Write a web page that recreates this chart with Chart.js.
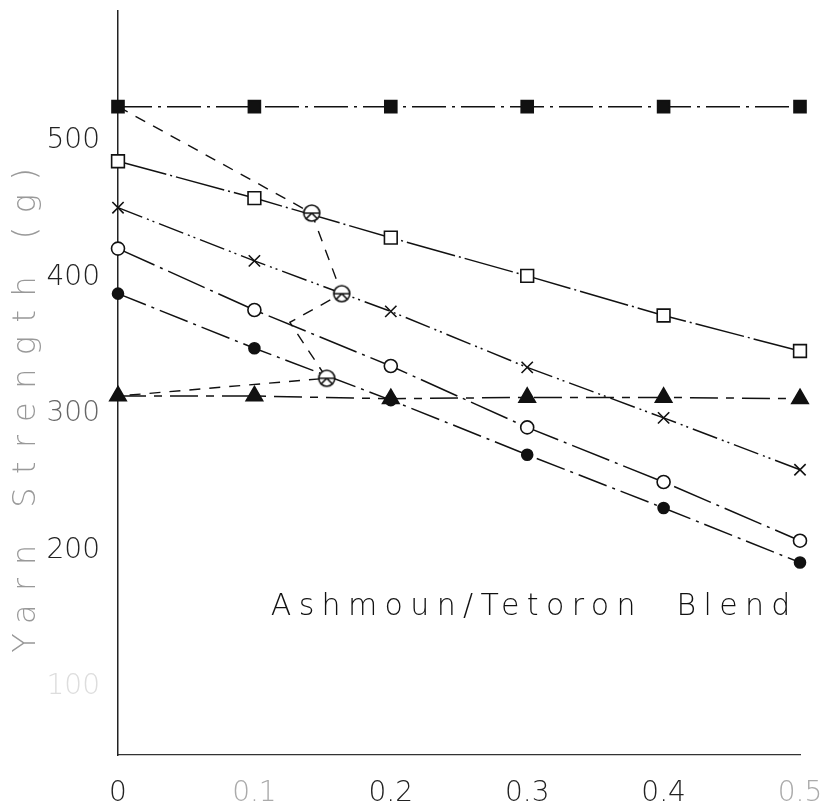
<!DOCTYPE html>
<html>
<head>
<meta charset="utf-8">
<script src="https://cdn.jsdelivr.net/npm/chart.js@4.4.1/dist/chart.umd.min.js"></script>
<style>
  html, body { margin: 0; padding: 0; background: #fff; }
</style>
</head>
<body>
<canvas id="chart" width="830" height="805"></canvas>
<script>
// values
const blendRatio = [0, 0.1, 0.2, 0.3, 0.4, 0.5];
const filledSquares = [525, 525, 525, 525, 525, 525];
const openSquares = [485, 458, 429, 401, 372, 346];
const crosses = [451, 412, 375, 334, 297, 259];
const openCircles = [421, 376, 335, 290, 250, 207];
const filledCircles = [388, 348, 310, 270, 231, 191];
const triangles = [313, 313, 311, 312, 312, 311];

// dashed curve through the crossing points
const locusX = [0, 0.142, 0.164, 0.126, 0.153, 0];
const locusY = [525, 447, 388, 367, 326, 313];
const locusMarked = [false, true, true, false, true, false];

const xTicks = [0, 0.1, 0.2, 0.3, 0.4, 0.5];
const yTicks = [100, 200, 300, 400, 500];
const yTitle = 'Yarn Strength (g)';
const blendText = 'Ashmoun/Tetoron  Blend';

const ink = '#111';

// circle with a cross inside, used for the crossing points
function crossedCircle() {
  const c = document.createElement('canvas');
  c.width = 20; c.height = 20;
  const g = c.getContext('2d');
  g.strokeStyle = ink;
  g.lineWidth = 1.6;
  g.fillStyle = '#fff';
  g.beginPath();
  g.arc(10, 10, 8, 0, Math.PI * 2);
  g.fill();
  g.stroke();
  g.beginPath();
  g.moveTo(2, 10); g.lineTo(18, 10);
  g.moveTo(10, 10); g.lineTo(4, 16);
  g.moveTo(10, 10); g.lineTo(16, 16);
  g.stroke();
  return c;
}

const pts = ys => blendRatio.map((x, i) => ({ x, y: ys[i] }));

function series(ys, style, radius, fill, dash) {
  return {
    data: pts(ys),
    borderColor: ink,
    borderWidth: 1.5,
    borderDash: dash,
    pointStyle: style,
    pointRadius: radius,
    pointBorderWidth: 1.6,
    pointBorderColor: ink,
    pointBackgroundColor: fill,
    tension: 0,
    clip: false
  };
}

// spread text between two pixel positions by letter spacing
function spreadText(ctx, text, x, y, width) {
  ctx.letterSpacing = '0px';
  const w = ctx.measureText(text).width;
  const sp = (width - w) / (text.length - 1);
  ctx.letterSpacing = sp.toFixed(2) + 'px';
  ctx.fillText(text, x, y);
  ctx.letterSpacing = '0px';
}

const labels = {
  id: 'labels',
  afterDatasetsDraw(chart) {
    const { ctx, scales } = chart;
    const x0 = scales.x.getPixelForValue(0.112);
    const x1 = scales.x.getPixelForValue(0.493);
    const y = scales.y.getPixelForValue(158);
    ctx.save();
    ctx.font = '300 30px "DejaVu Sans", sans-serif';
    ctx.fillStyle = ink;
    ctx.textBaseline = 'middle';
    ctx.textAlign = 'left';
    spreadText(ctx, blendText, x0, y, x1 - x0);
    ctx.restore();

    // faded axis title, read bottom to top
    const yb = scales.y.getPixelForValue(125);
    const yt = scales.y.getPixelForValue(480);
    ctx.save();
    ctx.translate(27, yb);
    ctx.rotate(-Math.PI / 2);
    ctx.font = '300 32px "DejaVu Sans", sans-serif';
    ctx.fillStyle = '#999';
    ctx.textBaseline = 'middle';
    ctx.textAlign = 'left';
    spreadText(ctx, yTitle, 0, 0, yb - yt);
    ctx.restore();
  }
};

new Chart(document.getElementById('chart'), {
  type: 'line',
  data: {
    datasets: [
      {
        data: locusX.map((x, i) => ({ x, y: locusY[i] })),
        borderColor: ink,
        borderWidth: 1.4,
        borderDash: [11, 9],
        pointStyle: crossedCircle(),
        pointRadius: locusMarked.map(m => (m ? 8 : 0)),
        tension: 0,
        clip: false
      },
      series(filledSquares, 'rect', 8.5, ink, [34, 6, 3, 6]),
      series(openSquares, 'rect', 9, '#fff', [50, 4, 2, 4]),
      series(crosses, 'crossRot', 8, '#fff', [26, 5, 2, 4, 2, 5]),
      series(openCircles, 'circle', 6.5, '#fff', [40, 6, 3, 6]),
      series(filledCircles, 'circle', 5.5, ink, [30, 6, 3, 6]),
      series(triangles, 'triangle', 9.5, ink, [28, 8, 8, 8])
    ]
  },
  options: {
    responsive: false,
    animation: false,
    layout: { padding: { top: 10, right: 30, left: 0, bottom: 0 } },
    plugins: { legend: { display: false }, tooltip: { enabled: false } },
    scales: {
      x: {
        type: 'linear',
        min: 0,
        max: 0.5,
        afterBuildTicks: s => { s.ticks = xTicks.map(v => ({ value: v })); },
        afterFit: s => { s.height = 50; s.paddingLeft = 0; s.paddingRight = 0; },
        grid: { display: false },
        border: { display: true, color: '#333', width: 1.3 },
        ticks: {
          padding: 14,
          font: { family: 'DejaVu Sans', size: 28, weight: '300' },
          color: ctx => ([0.1, 0.5].includes(ctx.tick.value) ? '#aaa' : '#222'),
          callback: v => (v === 0 ? '0' : v.toFixed(1))
        }
      },
      y: {
        type: 'linear',
        min: 50,
        max: 595,
        afterBuildTicks: s => { s.ticks = yTicks.map(v => ({ value: v })); },
        afterFit: s => { s.width = 118; s.paddingTop = 0; s.paddingBottom = 0; },
        grid: { display: false },
        border: { display: true, color: '#222', width: 1.5 },
        ticks: {
          padding: 10,
          font: { family: 'DejaVu Sans', size: 28, weight: '300' },
          color: ctx => (ctx.tick.value === 100 ? '#ddd' : ctx.tick.value === 300 ? '#666' : '#222')
        }
      }
    }
  },
  plugins: [labels]
});
</script>
</body>
</html>
